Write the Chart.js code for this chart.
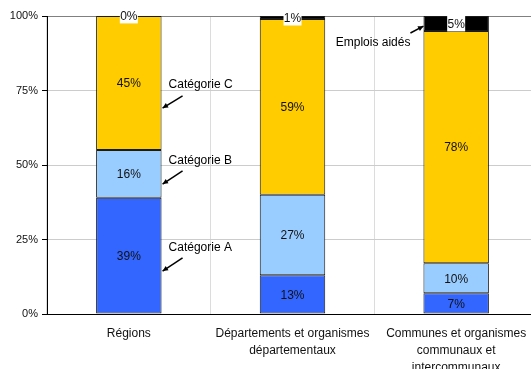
<!DOCTYPE html>
<html>
<head>
<meta charset="utf-8">
<script src="https://cdn.jsdelivr.net/npm/chart.js@4"></script>
<style>
  html, body { margin: 0; padding: 0; background: #fff; overflow: hidden; }
  #wrap { width: 540px; height: 369px; }
</style>
</head>
<body>
<div id="wrap"><canvas id="Stacked"></canvas></div>
<script>
const stackedCanvas = document.getElementById("Stacked");

const categories = [
  "Régions",
  ["Départements et organismes", "départementaux"],
  ["Communes et organismes", "communaux et", "intercommunaux"],
];
const categorieA = [39, 13, 7];
const categorieB = [16, 27, 10];
const categorieC = [45, 59, 78];
const emploisAides = [0.4, 1, 5];
const yTicks = [0, 25, 50, 75, 100];

// callouts: label, bar index, side, text y, arrow start y, arrow end y (in %)
const callouts = [
  { text: "Catégorie C", bar: 0, side: "right", textY: 77.2, fromY: 73.2, toY: 69.1 },
  { text: "Catégorie B", bar: 0, side: "right", textY: 51.7, fromY: 48, toY: 43.6 },
  { text: "Catégorie A", bar: 0, side: "right", textY: 22.5, fromY: 18.8, toY: 14.4 },
  { text: "Emplois aidés", bar: 2, side: "left", textY: 91.3, fromY: 94.3, toY: 96.6 },
];

const FONT = "'Liberation Sans', Arial, sans-serif";

const datasetTemplate = {
  a: { label: "Catégorie A", backgroundColor: "#3366ff" },
  b: { label: "Catégorie B", backgroundColor: "#99ccff" },
  c: { label: "Catégorie C", backgroundColor: "#ffcc00" },
  e: { label: "Emplois aidés", backgroundColor: "#000000" },
};

const segmentLabels = {
  id: "segmentLabels",
  afterDatasetsDraw(chart) {
    const ctx = chart.ctx;
    ctx.save();
    ctx.font = "12px " + FONT;
    ctx.textAlign = "center";
    ctx.textBaseline = "middle";
    chart.data.datasets.forEach((ds, di) => {
      const meta = chart.getDatasetMeta(di);
      meta.data.forEach((bar, i) => {
        const txt = Math.round(ds.data[i]) + "%";
        const cy = (bar.y + bar.base) / 2;
        if (di === 3) {
          ctx.fillStyle = "#fff";
          ctx.fillRect(bar.x - 9, cy - 8, 18, 16);
        }
        ctx.fillStyle = "#111";
        ctx.fillText(txt, bar.x, cy + 1);
      });
    });
    ctx.restore();
  },
};

const arrowLabels = {
  id: "arrowLabels",
  afterDatasetsDraw(chart) {
    const ctx = chart.ctx;
    const y = chart.scales.y;
    const meta = chart.getDatasetMeta(0);
    ctx.save();
    ctx.font = "12px " + FONT;
    ctx.textBaseline = "middle";
    ctx.strokeStyle = "#000";
    ctx.fillStyle = "#000";
    ctx.lineWidth = 1.5;
    callouts.forEach((c) => {
      const bar = meta.data[c.bar];
      let x0, x1, tx;
      if (c.side === "right") {
        x1 = bar.x + bar.width / 2 + 1;
        x0 = x1 + 20;
        tx = x1 + 6;
        ctx.textAlign = "left";
      } else {
        x1 = bar.x - bar.width / 2;
        x0 = x1 - 13;
        tx = x1 - 13;
        ctx.textAlign = "right";
      }
      ctx.fillText(c.text, tx, y.getPixelForValue(c.textY) + 1);
      const ya = y.getPixelForValue(c.fromY);
      const yb = y.getPixelForValue(c.toY);
      ctx.beginPath();
      ctx.moveTo(x0, ya);
      ctx.lineTo(x1, yb);
      ctx.stroke();
      // arrow head
      const ang = Math.atan2(yb - ya, x1 - x0);
      ctx.beginPath();
      ctx.moveTo(x1, yb);
      ctx.lineTo(x1 - 6 * Math.cos(ang - 0.45), yb - 6 * Math.sin(ang - 0.45));
      ctx.lineTo(x1 - 6 * Math.cos(ang + 0.45), yb - 6 * Math.sin(ang + 0.45));
      ctx.closePath();
      ctx.fill();
    });
    ctx.restore();
  },
};

const composeData = () => ({
  labels: categories,
  datasets: [
    { ...datasetTemplate.a, data: categorieA },
    { ...datasetTemplate.b, data: categorieB },
    { ...datasetTemplate.c, data: categorieC },
    { ...datasetTemplate.e, data: emploisAides },
  ].map((d) => ({
    ...d,
    borderColor: "#1a1a1a",
    borderWidth: 1,
    borderSkipped: false,
    categoryPercentage: 1,
    barPercentage: 0.4,
  })),
});

const composeConfig = () => ({
  type: "bar",
  data: composeData(),
  options: {
    responsive: true,
    maintainAspectRatio: false,
    animation: false,
    layout: { padding: { top: 16, left: 0, right: 2, bottom: 0 } },
    plugins: { legend: { display: false }, tooltip: { enabled: false } },
    scales: {
      x: {
        stacked: true,
        grid: { color: "#dcdcdc", drawTicks: false, offset: true },
        border: { color: "#000", width: 1 },
        ticks: {
          color: "#111",
          font: { family: FONT, size: 12, lineHeight: 1.42 },
          maxRotation: 0,
          autoSkip: false,
          padding: 11,
        },
        afterFit: (s) => { s.height = 55; },
      },
      y: {
        stacked: true,
        min: 0,
        max: 100,
        afterBuildTicks: (s) => { s.ticks = yTicks.map((v) => ({ value: v })); },
        grid: {
          color: (c) => (c.tick && c.tick.value === 100 ? "#808080" : "#cccccc"),
          tickColor: "#000",
          tickLength: 5,
        },
        border: { color: "#000", width: 1 },
        ticks: {
          color: "#111",
          font: { family: FONT, size: 11 },
          padding: 4,
          callback: (v) => v + "%",
        },
        afterFit: (s) => { s.width = 47; },
      },
    },
  },
  plugins: [segmentLabels, arrowLabels],
});

new Chart(stackedCanvas, composeConfig());
</script>
</body>
</html>
